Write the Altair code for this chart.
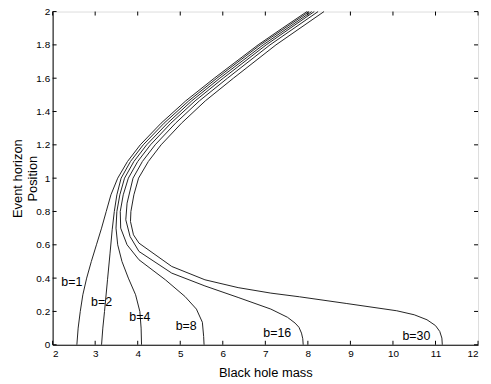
import altair as alt
import pandas as pd

# Curves: (x = black hole mass, y = event horizon position), traced top to bottom
b1_x = [7.98, 7.40, 6.83, 5.80, 5.13, 4.55, 4.06, 3.76, 3.53, 3.37, 3.26, 3.15, 3.03, 2.91, 2.80, 2.71, 2.65, 2.60, 2.57]
b1_y = [2.00, 1.90, 1.80, 1.60, 1.464, 1.33, 1.20, 1.10, 1.00, 0.90, 0.80, 0.70, 0.60, 0.50, 0.40, 0.30, 0.20, 0.10, 0.00]

b2_x = [8.03, 6.88, 5.86, 5.20, 4.62, 4.13, 3.83, 3.61, 3.51, 3.45, 3.40, 3.35, 3.29, 3.22, 3.18, 3.15]
b2_y = [2.00, 1.80, 1.60, 1.464, 1.33, 1.20, 1.10, 1.00, 0.90, 0.80, 0.69, 0.55, 0.39, 0.20, 0.10, 0.00]

b4_x = [8.09, 6.95, 5.93, 5.27, 4.70, 4.21, 3.91, 3.69, 3.58, 3.51, 3.49, 3.53, 3.63, 3.78, 3.95, 4.05, 4.08, 4.09]
b4_y = [2.00, 1.80, 1.60, 1.464, 1.33, 1.20, 1.10, 1.00, 0.90, 0.80, 0.70, 0.60, 0.50, 0.40, 0.30, 0.20, 0.10, 0.00]

b8_x = [8.15, 7.02, 6.01, 5.35, 4.78, 4.30, 4.00, 3.78, 3.66, 3.59, 3.60, 3.75, 4.03, 4.65, 5.11, 5.38, 5.52, 5.55, 5.56]
b8_y = [2.00, 1.80, 1.60, 1.464, 1.33, 1.20, 1.10, 1.00, 0.90, 0.80, 0.70, 0.60, 0.51, 0.39, 0.29, 0.214, 0.135, 0.05, 0.00]

b16_x = [8.24, 7.11, 6.11, 5.45, 4.89, 4.41, 4.11, 3.89, 3.75, 3.72, 3.82, 4.03, 4.80, 5.58, 6.36, 7.13, 7.52, 7.70, 7.79, 7.85, 7.88, 7.89]
b16_y = [2.00, 1.80, 1.60, 1.464, 1.33, 1.20, 1.10, 1.00, 0.85, 0.75, 0.65, 0.56, 0.43, 0.353, 0.284, 0.214, 0.165, 0.13, 0.105, 0.07, 0.036, 0.00]

b30_x = [8.38, 7.25, 6.25, 5.59, 5.03, 4.55, 4.25, 4.02, 3.91, 3.84, 3.83, 3.90, 4.03, 4.80, 5.58, 6.36, 7.13, 7.80, 8.90, 10.09, 10.50, 10.80, 11.00, 11.10, 11.15, 11.16]
b30_y = [2.00, 1.80, 1.60, 1.464, 1.33, 1.20, 1.10, 1.00, 0.90, 0.80, 0.74, 0.66, 0.61, 0.47, 0.39, 0.343, 0.31, 0.288, 0.248, 0.204, 0.18, 0.15, 0.115, 0.08, 0.04, 0.00]

series_names = ["b=1", "b=2", "b=4", "b=8", "b=16", "b=30"]
series_x = [b1_x, b2_x, b4_x, b8_x, b16_x, b30_x]
series_y = [b1_y, b2_y, b4_y, b8_y, b16_y, b30_y]

label_text = ["b=1", "b=2", "b=4", "b=8", "b=16", "b=30"]
label_x = [2.45, 3.15, 4.05, 5.14, 7.28, 10.55]
label_y = [0.375, 0.256, 0.165, 0.115, 0.07, 0.053]

x_ticks = [2, 3, 4, 5, 6, 7, 8, 9, 10, 11, 12]
y_ticks = [0, 0.2, 0.4, 0.6, 0.8, 1, 1.2, 1.4, 1.6, 1.8, 2]

rows = []
for name, xs, ys in zip(series_names, series_x, series_y):
    for i, (xv, yv) in enumerate(zip(xs, ys)):
        rows.append({"series": name, "x": xv, "y": yv, "i": i})
df = pd.DataFrame(rows)
labels = pd.DataFrame({"t": label_text, "x": label_x, "y": label_y})
xt = pd.DataFrame({"x": x_ticks})
yt = pd.DataFrame({"y": y_ticks})

W, H = 429, 336
TL = 4  # inward tick length
FONT = "Liberation Sans"
xscale = alt.Scale(domain=[2, 12], nice=False, zero=False)
yscale = alt.Scale(domain=[0, 2], nice=False, zero=False)

x_axis = alt.Axis(orient="bottom", values=x_ticks, ticks=False, grid=False,
                  domainColor="#000", labelFontSize=10, labelFont=FONT,
                  labelColor="#000", labelPadding=4, labelOverlap=False,
                  title="Black hole mass", titleFont=FONT, titleFontSize=13,
                  titleFontWeight="normal", titleColor="#000", titlePadding=8)
y_axis = alt.Axis(orient="left", values=y_ticks, format="~g", ticks=False, grid=False,
                  domainColor="#000", labelFontSize=10, labelFont=FONT,
                  labelColor="#000", labelPadding=3, labelFlush=False, labelOverlap=False,
                  title=["Event horizon", "Position"], titleFont=FONT,
                  titleFontSize=13, titleFontWeight="normal", titleColor="#000",
                  titlePadding=-4)


def X():
    return alt.X("x:Q", scale=xscale, axis=x_axis)


def Y():
    return alt.Y("y:Q", scale=yscale, axis=y_axis)


main = alt.Chart(df).mark_line(color="#222", strokeWidth=1).encode(
    x=X(), y=Y(), detail="series:N", order="i:Q",
)

tick_style = dict(color="#000", strokeWidth=1)
xt_bottom = alt.Chart(xt).mark_rule(**tick_style).encode(
    x=X(), y=alt.value(H), y2=alt.value(H - TL))
xt_top = alt.Chart(xt).mark_rule(**tick_style).encode(
    x=X(), y=alt.value(0), y2=alt.value(TL))
yt_left = alt.Chart(yt).mark_rule(**tick_style).encode(
    y=Y(), x=alt.value(0), x2=alt.value(TL))
yt_right = alt.Chart(yt).mark_rule(**tick_style).encode(
    y=Y(), x=alt.value(W), x2=alt.value(W - TL))

text = alt.Chart(labels).mark_text(font=FONT, fontSize=12.5, color="#000").encode(
    x=X(), y=Y(), text="t:N"
)

chart = alt.layer(main, xt_bottom, xt_top, yt_left, yt_right, text).properties(
    width=W, height=H,
    autosize=alt.AutoSizeParams(type="none"),
    padding={"left": 45, "top": 2, "right": 5, "bottom": 40},
).configure_view(stroke="#444", strokeWidth=1).configure(background="white")

chart.save("out.html", embed_options={"renderer": "svg", "actions": False})
